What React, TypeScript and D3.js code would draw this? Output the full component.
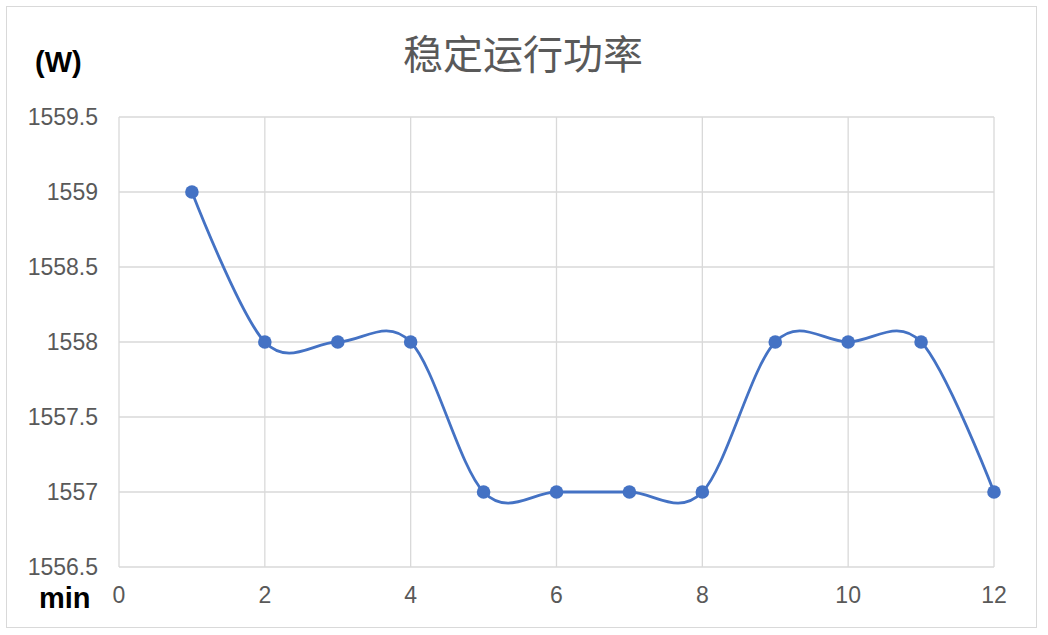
import React from "react";
import * as d3 from "d3";

const minutes = [1, 2, 3, 4, 5, 6, 7, 8, 9, 10, 11, 12];
const power = [1559, 1558, 1558, 1558, 1557, 1557, 1557, 1557, 1558, 1558, 1558, 1557];
const xTicks = [0, 2, 4, 6, 8, 10, 12];
const yTicks = [1556.5, 1557, 1557.5, 1558, 1558.5, 1559, 1559.5];
const title = "稳定运行功率";
const yUnit = "(W)";
const xUnit = "min";

const W = 1048;
const H = 635;
const left = 119;
const right = 994;
const top = 117;
const bottom = 567;

export default function App() {
  const x = d3.scaleLinear().domain([0, 12]).range([left, right]);
  const y = d3.scaleLinear().domain([1556.5, 1559.5]).range([bottom, top]);
  const pts: [number, number][] = minutes.map((m, i) => [x(m), y(power[i])]);
  const line = d3.line().curve(d3.curveCardinal.tension(0))(pts) || "";
  const grid = "#d9d9d9";
  const txt = "#595959";
  return (
    <svg
      width={W}
      height={H}
      style={{ position: "fixed", left: 0, top: 0, background: "#fff" }}
      fontFamily="'Liberation Sans', Arial, sans-serif"
    >
      <rect x={0} y={0} width={W} height={H} fill="#fff" />
      <rect x={6.5} y={6.5} width={1030} height={621} fill="none" stroke={grid} strokeWidth={1} />
      {yTicks.map((t) => (
        <line key={"y" + t} x1={left} x2={right} y1={y(t)} y2={y(t)} stroke={grid} strokeWidth={1.3} />
      ))}
      {xTicks.map((t) => (
        <line key={"x" + t} x1={x(t)} x2={x(t)} y1={top} y2={bottom} stroke={grid} strokeWidth={1.3} />
      ))}
      {yTicks.map((t) => (
        <text key={"yl" + t} x={98} y={y(t)} dy="0.35em" textAnchor="end" fontSize={23} fill={txt}>
          {t}
        </text>
      ))}
      {xTicks.map((t) => (
        <text key={"xl" + t} x={x(t)} y={595} dy="0.35em" textAnchor="middle" fontSize={23} fill={txt}>
          {t}
        </text>
      ))}
      <text
        x={523}
        y={55}
        dy="0.35em"
        textAnchor="middle"
        fontSize={40}
        fill={txt}
        fontFamily="'Noto Sans CJK SC', sans-serif"
      >
        {title}
      </text>
      <text x={35} y={72} fontSize={29} fontWeight="bold" fill="#000">
        {yUnit}
      </text>
      <text x={39} y={608} fontSize={29} fontWeight="bold" fill="#000">
        {xUnit}
      </text>
      <path d={line} fill="none" stroke="#4472C4" strokeWidth={2.8} />
      {pts.map((p, i) => (
        <circle key={i} cx={p[0]} cy={p[1]} r={6.8} fill="#4472C4" />
      ))}
    </svg>
  );
}
